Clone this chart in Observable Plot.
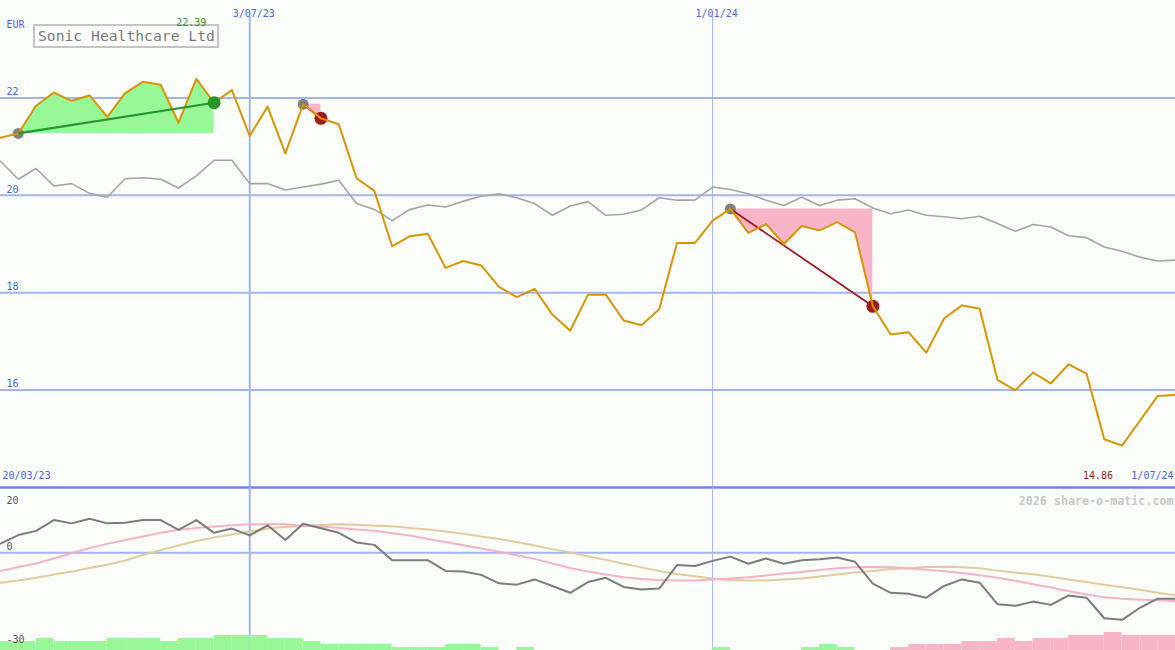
<!DOCTYPE html>
<html>
<head>
<meta charset="utf-8">
<script src="https://cdn.jsdelivr.net/npm/d3@7"></script>
<script src="https://cdn.jsdelivr.net/npm/@observablehq/plot@0.6"></script>
<style>
html, body { margin: 0; padding: 0; background: #fbfdfb; }
#chart { position: relative; width: 1175px; height: 650px; overflow: hidden; background: #fbfdfb; font-family: "DejaVu Sans Mono", monospace; }
#chart .layer { position: absolute; left: 0; }
#title { position: absolute; left: 33px; top: 24px; width: 179px; height: 20px; padding-left: 3px; border: 2px solid #c4c4c4; background: #fcfefc; color: #7a7a7a; font-size: 14.7px; line-height: 20px; white-space: nowrap; font-family: "DejaVu Sans Mono", monospace; }
</style>
</head>
<body>
<div id="chart">
  <div id="title"></div>
  <div class="layer" id="main" style="top:0"></div>
  <div class="layer" id="lower" style="top:487px"></div>
  <div class="layer" id="bars" style="top:630px"></div>
</div>
<script>
// ---------- data (weekly closes, index 0 = 20/03/23 ... 66 = 1/07/24) ----------
const titleText = "Sonic Healthcare Ltd";
const currency = "EUR";
const startLabel = "20/03/23";
const endLabel = "1/07/24";
const dateTickIdx = [14, 40];
const dateTickLabels = ["3/07/23", "1/01/24"];
const priceTicks = [16, 18, 20, 22];
const lowerTicks = [20, 0, -30];
const copyright = "2026 share-o-matic.com";

const price = [21.18, 21.27, 21.84, 22.11, 21.94, 22.05, 21.61, 22.10, 22.33, 22.27,
  21.49, 22.39, 21.90, 22.16, 21.22, 21.82, 20.86, 21.87, 21.58, 21.46,
  20.35, 20.09, 18.95, 19.16, 19.21, 18.51, 18.65, 18.56, 18.12, 17.91,
  18.08, 17.55, 17.22, 17.96, 17.96, 17.43, 17.33, 17.66, 19.02, 19.02,
  19.48, 19.72, 19.23, 19.41, 19.00, 19.37, 19.28, 19.45, 19.24, 17.72,
  17.14, 17.19, 16.77, 17.47, 17.74, 17.67, 16.21, 16.00, 16.36, 16.14,
  16.53, 16.34, 14.99, 14.86, 15.37, 15.88, 15.90];

const compare = [20.70, 20.33, 20.55, 20.19, 20.24, 20.04, 19.96, 20.34, 20.36, 20.33,
  20.15, 20.40, 20.72, 20.72, 20.24, 20.24, 20.11, 20.17, 20.23, 20.31,
  19.83, 19.71, 19.48, 19.71, 19.80, 19.76, 19.88, 19.98, 20.03, 19.95,
  19.83, 19.59, 19.78, 19.87, 19.59, 19.61, 19.70, 19.95, 19.90, 19.90,
  20.17, 20.12, 20.03, 19.90, 19.79, 19.96, 19.79, 19.90, 19.93, 19.74,
  19.62, 19.70, 19.59, 19.56, 19.52, 19.57, 19.42, 19.26, 19.40, 19.35,
  19.17, 19.13, 18.94, 18.85, 18.73, 18.65, 18.67];

// trades: [start index, end index]
const gainTrades = [[1, 12]];
const lossTrades = [[17, 18], [41, 49]];

const momentum = [2.8, 5.4, 6.7, 10.0, 9.0, 10.4, 9.0, 9.2, 10.0, 10.0,
  7.0, 10.0, 6.1, 7.4, 5.3, 8.4, 3.9, 8.9, 7.5, 6.1,
  3.1, 2.4, -2.3, -2.3, -2.3, -5.6, -5.8, -6.8, -9.4, -9.8,
  -8.2, -10.2, -12.3, -9.0, -7.7, -10.5, -11.3, -11.0, -3.8, -4.1,
  -2.5, -1.2, -3.4, -1.8, -3.4, -2.3, -2.0, -1.5, -2.8, -9.5,
  -12.3, -12.6, -13.8, -10.2, -8.2, -9.2, -15.8, -16.3, -15.0, -16.0,
  -13.1, -13.8, -20.1, -20.6, -16.9, -14.1, -14.1];

const maFast = [-5.6, -4.4, -3.3, -1.8, -0.1, 1.4, 2.7, 3.9, 5.0, 6.1,
  7.0, 7.6, 8.0, 8.4, 8.7, 8.7, 8.7, 8.3, 8.0, 7.6,
  7.1, 6.7, 6.0, 5.3, 4.2, 3.3, 2.3, 1.3, 0.3, -0.8,
  -1.9, -3.3, -4.7, -5.8, -6.7, -7.5, -8.1, -8.4, -8.5, -8.5,
  -8.2, -7.9, -7.5, -7.0, -6.4, -5.9, -5.3, -4.8, -4.5, -4.4,
  -4.5, -4.8, -5.2, -5.7, -6.2, -6.9, -7.7, -8.6, -9.7, -10.7,
  -11.8, -12.8, -13.7, -14.1, -14.4, -14.6, -14.8];

const maSlow = [-9.2, -8.5, -7.7, -6.7, -5.8, -4.7, -3.7, -2.4, -0.7, 0.8,
  2.2, 3.6, 4.7, 5.6, 6.5, 7.4, 7.9, 8.2, 8.5, 8.7,
  8.6, 8.3, 8.1, 7.6, 7.1, 6.5, 5.8, 5.0, 4.2, 3.3,
  2.2, 1.1, 0.1, -1.1, -2.2, -3.4, -4.5, -5.6, -6.5, -7.2,
  -7.9, -8.4, -8.5, -8.5, -8.2, -7.9, -7.3, -6.7, -6.1, -5.6,
  -5.0, -4.8, -4.4, -4.3, -4.5, -4.8, -5.5, -6.1, -6.6, -7.4,
  -8.2, -9.0, -9.8, -10.6, -11.4, -12.3, -13.1];

// signal strength bars (positive = buy / green, negative = sell / pink), one per week interval
const signal = [3, 3, 4, 3, 3, 3, 4, 4, 4, 3,
  4, 4, 5, 5, 5, 4, 4, 3, 2, 2,
  2, 2, 1, 1, 1, 2, 2, 1, 0, 1,
  0, 0, 0, 0, 0, 0, 0, 0, 0, 0,
  1, 0, 0, 0, 0, 1, 2, 1, 0, 0,
  -1, -2, -2, -2, -3, -3, -4, -3, -4, -4,
  -5, -5, -6, -5, -5, -5];

// ---------- styles ----------
const W = 1175;
const font = "DejaVu Sans Mono";
const gridColor = "#a4b4f0";
const blue = "#4a62f0";
const sepColor = "#7484ec";
const priceColor = "#d99400";
const compareColor = "#a4a4a4";
const greenFill = "#98f898";
const greenLine = "#279627";
const pinkFill = "#f8b4c8";
const redLine = "#a01c1c";
const greyDot = "#808080";

document.getElementById("title").textContent = titleText;

const xDomain = [0, price.length - 1];
const pts = price.map((v, i) => ({i, v}));
const maxIdx = d3.maxIndex(price);
const minIdx = d3.minIndex(price);
const dateTicks = dateTickIdx.map((i, k) => ({i, label: dateTickLabels[k]}));

function tradeRows(trades) {
  const rows = [];
  trades.forEach((t, k) => {
    for (let i = t[0]; i <= t[1]; i++) rows.push({t: k, i, base: price[t[0]], v: price[i]});
  });
  return rows;
}
const gainRows = tradeRows(gainTrades);
const lossRows = tradeRows(lossTrades);
const tradeLink = (trades) => trades.map(t => ({x1: t[0], y1: price[t[0]], x2: t[1], y2: price[t[1]]}));

const txt = {fontFamily: font, fontSize: 10};

const main = Plot.plot({
  width: W, height: 487, margin: 0,
  x: {domain: xDomain, axis: null},
  y: {domain: [14, 24], axis: null},
  style: {background: "transparent", fontFamily: font, overflow: "visible"},
  marks: [
    Plot.ruleY(priceTicks, {stroke: gridColor, strokeWidth: 2}),
    Plot.ruleX(dateTickIdx.slice(0, 1), {stroke: gridColor, strokeWidth: 2, insetTop: 16}),
    Plot.ruleX(dateTickIdx.slice(1), {stroke: gridColor, strokeWidth: 1, insetTop: 16}),
    Plot.ruleY([14], {stroke: sepColor, strokeWidth: 2.5}),
    Plot.areaY(gainRows, {x: "i", y1: "base", y2: "v", z: "t", fill: greenFill, curve: "linear"}),
    Plot.areaY(lossRows, {x: "i", y1: "base", y2: "v", z: "t", fill: pinkFill, curve: "linear"}),
    Plot.line(compare.map((v, i) => ({i, v})), {x: "i", y: "v", stroke: compareColor, strokeWidth: 1.6}),
    Plot.dot(gainTrades.concat(lossTrades), {x: d => d[0], y: d => price[d[0]], r: 5.5, fill: greyDot}),
    Plot.dot(lossTrades, {x: d => d[1], y: d => price[d[1]], r: 6.5, fill: redLine}),
    Plot.link(tradeLink(lossTrades), {x1: "x1", y1: "y1", x2: "x2", y2: "y2", stroke: redLine, strokeWidth: 1.8}),
    Plot.line(pts, {x: "i", y: "v", stroke: priceColor, strokeWidth: 2}),
    Plot.link(tradeLink(gainTrades), {x1: "x1", y1: "y1", x2: "x2", y2: "y2", stroke: greenLine, strokeWidth: 2.2}),
    Plot.dot(gainTrades, {x: d => d[1], y: d => price[d[1]], r: 6.5, fill: greenLine}),
    Plot.text(priceTicks, {frameAnchor: "left", y: d => d, text: d => String(d), textAnchor: "start", dx: 6, dy: -6, fill: blue, ...txt}),
    Plot.text([currency], {frameAnchor: "top-left", text: d => d, textAnchor: "start", dx: 6, dy: 20, fill: blue, ...txt}),
    Plot.text(dateTicks, {x: "i", frameAnchor: "top", text: "label", dx: 4, dy: 9, fill: blue, ...txt}),
    Plot.text([maxIdx], {x: d => d, frameAnchor: "top", text: d => price[d].toFixed(2), dx: -5, dy: 18, fill: greenLine, ...txt}),
    Plot.text([startLabel], {frameAnchor: "bottom-left", text: d => d, textAnchor: "start", dx: 2, dy: -9, fill: blue, ...txt}),
    Plot.text([endLabel], {frameAnchor: "bottom-right", text: d => d, textAnchor: "end", dx: -2, dy: -9, fill: blue, ...txt}),
    Plot.text([minIdx], {x: d => d, frameAnchor: "bottom", text: d => price[d].toFixed(2), textAnchor: "end", dx: -9, dy: -9, fill: redLine, ...txt})
  ]
});
document.getElementById("main").appendChild(main);

const series = arr => arr.map((v, i) => ({i, v}));
const lower = Plot.plot({
  width: W, height: 163, margin: 0,
  x: {domain: xDomain, axis: null},
  y: {domain: [-30, 20], axis: null},
  style: {background: "transparent", fontFamily: font, overflow: "visible"},
  marks: [
    Plot.ruleY([0], {stroke: gridColor, strokeWidth: 2}),
    Plot.ruleX(dateTickIdx.slice(0, 1), {stroke: gridColor, strokeWidth: 2}),
    Plot.ruleX(dateTickIdx.slice(1), {stroke: gridColor, strokeWidth: 1}),
    Plot.line(series(maSlow), {x: "i", y: "v", stroke: "#e2cc9c", strokeWidth: 2}),
    Plot.line(series(maFast), {x: "i", y: "v", stroke: "#f8b0c8", strokeWidth: 2}),
    Plot.line(series(momentum), {x: "i", y: "v", stroke: "#7c7c7c", strokeWidth: 2}),
    Plot.text(lowerTicks.slice(0, 1), {frameAnchor: "top-left", text: d => String(d), textAnchor: "start", dx: 6, dy: 9, fill: "#555", ...txt}),
    Plot.text(lowerTicks.slice(1, 2), {frameAnchor: "left", y: d => d, text: d => String(d), textAnchor: "start", dx: 6, dy: -6, fill: "#555", ...txt}),
    Plot.text([copyright], {frameAnchor: "top-right", text: d => d, textAnchor: "end", dx: -2, dy: 9, fill: "#c8c8c8", fontFamily: font, fontSize: 11.7, fontWeight: "bold"})
  ]
});
document.getElementById("lower").appendChild(lower);

const sig = series(signal);
const bars = Plot.plot({
  width: W, height: 20, margin: 0,
  x: {domain: xDomain, axis: null},
  y: {domain: [0, 20 / 3], axis: null},
  style: {background: "transparent", fontFamily: font, overflow: "visible"},
  marks: [
    Plot.rect(sig.filter(d => d.v > 0), {x1: "i", x2: d => d.i + 1, y1: 0, y2: "v", fill: greenFill, inset: 0}),
    Plot.rect(sig.filter(d => d.v < 0), {x1: "i", x2: d => d.i + 1, y1: 0, y2: d => -d.v, fill: pinkFill, inset: 0}),
    // bottom label of the lower panel's scale, drawn above the bars
    Plot.text(lowerTicks.slice(2), {frameAnchor: "bottom-left", text: d => String(d), textAnchor: "start", dx: 6, dy: -8, fill: "#555", ...txt})
  ]
});
document.getElementById("bars").appendChild(bars);
</script>
</body>
</html>
